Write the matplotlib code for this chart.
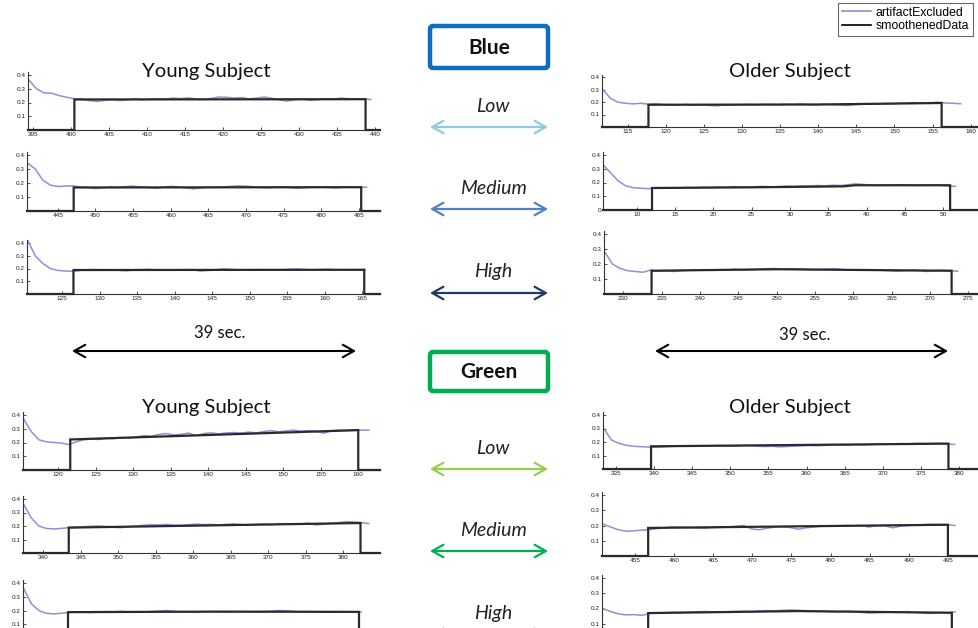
import numpy as np
import matplotlib
matplotlib.use("Agg")
import matplotlib.pyplot as plt
from matplotlib.patches import FancyArrowPatch, FancyBboxPatch
from matplotlib.lines import Line2D

plt.rcParams["font.family"] = ["Lato", "DejaVu Sans"]

# ---------------------------------------------------------------------------
# Pupil traces (artifact excluded), one sample per second from the start time,
# plus the smoothed response during the 39 s stimulus window.
# ---------------------------------------------------------------------------

# Blue / Low
young_blue_low_start = 394.4
young_blue_low = [0.365, 0.30, 0.27, 0.268, 0.25, 0.238, 0.228, 0.224, 0.214, 0.208,
                  0.216, 0.222, 0.214, 0.22, 0.226, 0.22, 0.224, 0.228, 0.226, 0.232,
                  0.228, 0.234, 0.226, 0.222, 0.23, 0.24, 0.238, 0.232, 0.236, 0.226,
                  0.232, 0.24, 0.23, 0.218, 0.21, 0.22, 0.224, 0.216, 0.22, 0.226,
                  0.222, 0.232, 0.228, 0.224, 0.226, 0.222]
young_blue_low_smooth_t = [400.4, 438.7]
young_blue_low_smooth_v = [0.222, 0.224]
young_blue_low_xlim = (394.3, 440.6)
young_blue_low_ticks = [395, 400, 405, 410, 415, 420, 425, 430, 435, 440]

older_blue_low_start = 111.7
older_blue_low = [0.30, 0.23, 0.198, 0.19, 0.185, 0.19, 0.182, 0.186, 0.18, 0.178,
                  0.176, 0.18, 0.174, 0.178, 0.172, 0.17, 0.176, 0.174, 0.178, 0.18,
                  0.176, 0.182, 0.18, 0.178, 0.182, 0.18, 0.184, 0.18, 0.178, 0.182,
                  0.18, 0.176, 0.172, 0.178, 0.182, 0.186, 0.184, 0.188, 0.186, 0.19,
                  0.192, 0.196, 0.19, 0.194, 0.198, 0.192, 0.19, 0.186]
older_blue_low_smooth_t = [117.7, 140.0, 156.2]
older_blue_low_smooth_v = [0.178, 0.18, 0.192]
older_blue_low_xlim = (111.6, 161.5)
older_blue_low_ticks = [115, 120, 125, 130, 135, 140, 145, 150, 155, 160]

# Blue / Medium
young_blue_med_start = 441.0
young_blue_med = [0.34, 0.30, 0.22, 0.185, 0.175, 0.178, 0.18, 0.172, 0.168, 0.16,
                  0.165, 0.172, 0.168, 0.174, 0.178, 0.172, 0.168, 0.162, 0.17, 0.176,
                  0.172, 0.165, 0.158, 0.164, 0.17, 0.168, 0.172, 0.176, 0.18, 0.178,
                  0.172, 0.168, 0.165, 0.17, 0.172, 0.166, 0.162, 0.168, 0.172, 0.17,
                  0.168, 0.165, 0.17, 0.172, 0.168, 0.17]
young_blue_med_smooth_t = [447.1, 485.3]
young_blue_med_smooth_v = [0.168, 0.17]
young_blue_med_xlim = (440.9, 487.8)
young_blue_med_ticks = [445, 450, 455, 460, 465, 470, 475, 480, 485]

older_blue_med_start = 5.6
older_blue_med = [0.33, 0.27, 0.21, 0.175, 0.162, 0.158, 0.155, 0.162, 0.158, 0.162,
                  0.16, 0.164, 0.162, 0.166, 0.164, 0.168, 0.165, 0.17, 0.168, 0.166,
                  0.17, 0.172, 0.168, 0.17, 0.174, 0.172, 0.175, 0.174, 0.178, 0.176,
                  0.18, 0.178, 0.184, 0.19, 0.186, 0.18, 0.178, 0.182, 0.18, 0.184,
                  0.18, 0.178, 0.18, 0.182, 0.18, 0.175, 0.172]
older_blue_med_smooth_t = [12.0, 25.0, 37.0, 38.5, 50.9]
older_blue_med_smooth_v = [0.16, 0.165, 0.172, 0.18, 0.18]
older_blue_med_xlim = (5.6, 54.8)
older_blue_med_ticks = [10, 15, 20, 25, 30, 35, 40, 45, 50]

# Blue / High
young_blue_high_start = 120.4
young_blue_high = [0.42, 0.30, 0.24, 0.20, 0.185, 0.18, 0.178, 0.185, 0.19, 0.192,
                   0.188, 0.19, 0.186, 0.182, 0.186, 0.19, 0.194, 0.19, 0.188, 0.19,
                   0.186, 0.192, 0.19, 0.18, 0.184, 0.19, 0.196, 0.194, 0.19, 0.186,
                   0.188, 0.192, 0.19, 0.188, 0.19, 0.194, 0.196, 0.192, 0.19, 0.192,
                   0.194, 0.19, 0.19, 0.188, 0.19, 0.192]
young_blue_high_smooth_t = [126.5, 165.3]
young_blue_high_smooth_v = [0.188, 0.19]
young_blue_high_xlim = (120.3, 167.4)
young_blue_high_ticks = [125, 130, 135, 140, 145, 150, 155, 160, 165]

older_blue_high_start = 227.6
older_blue_high = [0.28, 0.20, 0.17, 0.155, 0.15, 0.145, 0.16, 0.152, 0.155, 0.15,
                   0.156, 0.158, 0.16, 0.162, 0.158, 0.16, 0.162, 0.165, 0.16, 0.163,
                   0.165, 0.168, 0.17, 0.165, 0.166, 0.168, 0.165, 0.162, 0.164, 0.166,
                   0.168, 0.163, 0.16, 0.158, 0.162, 0.16, 0.158, 0.155, 0.152, 0.155,
                   0.158, 0.156, 0.15, 0.155, 0.158, 0.155, 0.152]
older_blue_high_smooth_t = [233.7, 250.0, 272.8]
older_blue_high_smooth_v = [0.155, 0.165, 0.155]
older_blue_high_xlim = (227.5, 276.5)
older_blue_high_ticks = [230, 235, 240, 245, 250, 255, 260, 265, 270, 275]

# Green / Low
young_green_low_start = 115.4
young_green_low = [0.37, 0.28, 0.22, 0.205, 0.20, 0.196, 0.185, 0.205, 0.22, 0.225,
                   0.222, 0.23, 0.228, 0.236, 0.232, 0.24, 0.25, 0.245, 0.258, 0.265,
                   0.255, 0.26, 0.268, 0.25, 0.265, 0.27, 0.262, 0.27, 0.272, 0.268,
                   0.276, 0.27, 0.28, 0.286, 0.278, 0.284, 0.29, 0.282, 0.286, 0.28,
                   0.268, 0.285, 0.29, 0.288, 0.292, 0.29, 0.29]
young_green_low_smooth_t = [121.6, 160.0]
young_green_low_smooth_v = [0.222, 0.29]
young_green_low_xlim = (115.3, 162.9)
young_green_low_ticks = [120, 125, 130, 135, 140, 145, 150, 155, 160]

older_green_low_start = 333.4
older_green_low = [0.30, 0.215, 0.19, 0.175, 0.168, 0.165, 0.162, 0.16, 0.165, 0.168,
                   0.17, 0.172, 0.168, 0.17, 0.172, 0.174, 0.17, 0.168, 0.172, 0.175,
                   0.17, 0.166, 0.168, 0.164, 0.166, 0.17, 0.172, 0.174, 0.172, 0.175,
                   0.18, 0.178, 0.176, 0.18, 0.178, 0.182, 0.184, 0.182, 0.186, 0.188,
                   0.185, 0.19, 0.188, 0.19, 0.19, 0.185, 0.182]
older_green_low_smooth_t = [339.6, 378.6]
older_green_low_smooth_v = [0.168, 0.188]
older_green_low_xlim = (333.3, 383.0)
older_green_low_ticks = [335, 340, 345, 350, 355, 360, 365, 370, 375, 380]

# Green / Medium
young_green_med_start = 337.4
young_green_med = [0.36, 0.26, 0.20, 0.182, 0.178, 0.182, 0.188, 0.19, 0.195, 0.198,
                   0.20, 0.196, 0.19, 0.188, 0.195, 0.20, 0.205, 0.21, 0.208, 0.212,
                   0.206, 0.205, 0.21, 0.214, 0.21, 0.212, 0.208, 0.212, 0.216, 0.21,
                   0.205, 0.212, 0.214, 0.21, 0.215, 0.218, 0.212, 0.216, 0.22, 0.208,
                   0.214, 0.22, 0.225, 0.232, 0.23, 0.225, 0.218]
young_green_med_smooth_t = [343.4, 382.3]
young_green_med_smooth_v = [0.188, 0.222]
young_green_med_xlim = (337.3, 384.9)
young_green_med_ticks = [340, 345, 350, 355, 360, 365, 370, 375, 380]

older_green_med_start = 450.9
older_green_med = [0.21, 0.19, 0.172, 0.162, 0.165, 0.17, 0.172, 0.18, 0.186, 0.19,
                   0.188, 0.186, 0.184, 0.182, 0.186, 0.188, 0.19, 0.195, 0.20, 0.178,
                   0.172, 0.182, 0.19, 0.192, 0.186, 0.176, 0.185, 0.19, 0.196, 0.198,
                   0.195, 0.20, 0.198, 0.20, 0.19, 0.198, 0.20, 0.185, 0.195, 0.20,
                   0.202, 0.205, 0.208, 0.206, 0.205, 0.20]
older_green_med_smooth_t = [456.7, 495.0]
older_green_med_smooth_v = [0.184, 0.205]
older_green_med_xlim = (450.8, 499.1)
older_green_med_ticks = [455, 460, 465, 470, 475, 480, 485, 490, 495]

# Green / High (time axis runs below the slide edge, so no tick labels)
young_green_high_start = 236.1
young_green_high = [0.36, 0.25, 0.20, 0.18, 0.175, 0.18, 0.185, 0.19, 0.188, 0.185,
                    0.19, 0.192, 0.19, 0.194, 0.19, 0.188, 0.19, 0.192, 0.196, 0.20,
                    0.195, 0.19, 0.188, 0.186, 0.19, 0.192, 0.19, 0.188, 0.19, 0.192,
                    0.19, 0.188, 0.192, 0.195, 0.20, 0.198, 0.194, 0.19, 0.192, 0.19,
                    0.188, 0.19, 0.192, 0.19, 0.19, 0.19]
young_green_high_smooth_t = [242.0, 262.0, 280.8]
young_green_high_smooth_v = [0.188, 0.192, 0.19]
young_green_high_xlim = (236.0, 283.6)
young_green_high_ticks = []

older_green_high_start = 565.1
older_green_high = [0.20, 0.18, 0.165, 0.158, 0.16, 0.155, 0.168, 0.17, 0.172, 0.175,
                    0.174, 0.176, 0.178, 0.18, 0.178, 0.176, 0.178, 0.18, 0.182, 0.18,
                    0.184, 0.186, 0.185, 0.188, 0.19, 0.188, 0.186, 0.185, 0.182, 0.18,
                    0.178, 0.182, 0.18, 0.175, 0.17, 0.172, 0.175, 0.178, 0.176, 0.18,
                    0.175, 0.17, 0.168, 0.175, 0.172, 0.178]
older_green_high_smooth_t = [570.9, 590.0, 609.7]
older_green_high_smooth_v = [0.17, 0.183, 0.172]
older_green_high_xlim = (565.0, 613.3)
older_green_high_ticks = []

y_ticks = [0.1, 0.2, 0.3, 0.4]
y_ticks_with_zero = [0.0, 0.1, 0.2, 0.3, 0.4]

intensity_labels = ["Low", "Medium", "High"]
subject_labels = ["Young Subject", "Older Subject"]
duration_label = "39 sec."
legend_labels = ["artifactExcluded", "smoothenedData"]

# ---------------------------------------------------------------------------
W, H = 979, 628
fig = plt.figure(figsize=(W / 100, H / 100), dpi=100)
fig.patch.set_facecolor("white")

# overlay working in pixel units (y downwards) for the slide annotations
bg = fig.add_axes([0, 0, 1, 1])
bg.set_xlim(0, W)
bg.set_ylim(H, 0)
bg.axis("off")

TRACE = "#9090d4"
SMOOTH = "#2a2a2a"
YTOP = 0.42
TICKFONT = {"family": ["Liberation Sans", "DejaVu Sans"]}


def panel_axes(left, right, bottom, top04):
    top = bottom - (bottom - top04) * YTOP / 0.4
    return fig.add_axes([left / W, 1 - bottom / H, (right - left) / W, (bottom - top) / H])


def draw_panel(ax, trace, start, sm_t, sm_v, xlim, xticks, yt):
    t = start + np.arange(len(trace))
    ax.plot(t, trace, color=TRACE, lw=1.1, zorder=2)
    st = [xlim[0], sm_t[0]] + list(sm_t) + [sm_t[-1], xlim[1]]
    sv = [0.0, 0.0] + list(sm_v) + [0.0, 0.0]
    ax.plot(st, sv, color=SMOOTH, lw=1.6, zorder=3, clip_on=False,
            solid_joinstyle="miter")
    ax.set_xlim(xlim)
    ax.set_ylim(0, YTOP)
    ax.set_xticks(xticks)
    ax.set_xticklabels([str(v) for v in xticks], fontdict=TICKFONT)
    ax.set_yticks(yt)
    ax.set_yticklabels(["0" if v == 0 else f"{v:.1f}" for v in yt], fontdict=TICKFONT)
    for s in ("top", "right"):
        ax.spines[s].set_visible(False)
    for s in ("left", "bottom"):
        ax.spines[s].set_linewidth(0.8)
        ax.spines[s].set_color("#333333")
    ax.tick_params(direction="in", length=2.5, width=0.6, labelsize=4.6, pad=1.5,
                   colors="#333333", labelcolor="#222222")
    ax.patch.set_alpha(0)


panels = [
    # (trace, start, smooth_t, smooth_v, xlim, ticks, yticks, [left, right, bottom, top04])
    (young_blue_low, young_blue_low_start, young_blue_low_smooth_t, young_blue_low_smooth_v,
     young_blue_low_xlim, young_blue_low_ticks, y_ticks, [28, 380, 130, 75]),
    (older_blue_low, older_blue_low_start, older_blue_low_smooth_t, older_blue_low_smooth_v,
     older_blue_low_xlim, older_blue_low_ticks, y_ticks, [602, 982, 127, 77]),
    (young_blue_med, young_blue_med_start, young_blue_med_smooth_t, young_blue_med_smooth_v,
     young_blue_med_xlim, young_blue_med_ticks, y_ticks, [27, 380, 211, 155]),
    (older_blue_med, older_blue_med_start, older_blue_med_smooth_t, older_blue_med_smooth_v,
     older_blue_med_xlim, older_blue_med_ticks, y_ticks_with_zero, [603, 980, 210, 155]),
    (young_blue_high, young_blue_high_start, young_blue_high_smooth_t, young_blue_high_smooth_v,
     young_blue_high_xlim, young_blue_high_ticks, y_ticks, [27, 380, 294, 243]),
    (older_blue_high, older_blue_high_start, older_blue_high_smooth_t, older_blue_high_smooth_v,
     older_blue_high_xlim, older_blue_high_ticks, y_ticks, [604, 980, 294, 234]),
    (young_green_low, young_green_low_start, young_green_low_smooth_t, young_green_low_smooth_v,
     young_green_low_xlim, young_green_low_ticks, y_ticks, [23, 380, 470, 415]),
    (older_green_low, older_green_low_start, older_green_low_smooth_t, older_green_low_smooth_v,
     older_green_low_xlim, older_green_low_ticks, y_ticks, [603, 982, 469, 415]),
    (young_green_med, young_green_med_start, young_green_med_smooth_t, young_green_med_smooth_v,
     young_green_med_xlim, young_green_med_ticks, y_ticks, [23, 380, 553, 499]),
    (older_green_med, older_green_med_start, older_green_med_smooth_t, older_green_med_smooth_v,
     older_green_med_xlim, older_green_med_ticks, y_ticks, [602, 980, 556, 495]),
    (young_green_high, young_green_high_start, young_green_high_smooth_t, young_green_high_smooth_v,
     young_green_high_xlim, young_green_high_ticks, y_ticks, [23, 380, 638, 583]),
    (older_green_high, older_green_high_start, older_green_high_smooth_t, older_green_high_smooth_v,
     older_green_high_xlim, older_green_high_ticks, y_ticks, [602, 980, 639, 578]),
]

for trace, start, sm_t, sm_v, xlim, xt, yt, box in panels:
    ax = panel_axes(*box)
    draw_panel(ax, trace, start, sm_t, sm_v, xlim, xt, yt)

# subject headings
for y in (71, 408):
    bg.text(206, y, subject_labels[0], fontsize=14.6, ha="center", va="center", color="#111111")
    bg.text(790, y, subject_labels[1], fontsize=14.6, ha="center", va="center", color="#111111")

# colour boxes
for (top, bottom, label, col) in [(24, 70, "Blue", "#0a6fc2"), (350, 393, "Green", "#00ad4f")]:
    bg.add_patch(FancyBboxPatch((430, top + 2), 118, bottom - top - 4,
                                boxstyle="round,pad=0,rounding_size=3",
                                lw=3.2, ec=col, fc="white", zorder=1))
    bg.text(489, (top + bottom) / 2 + 1, label, fontsize=15, fontweight="bold",
            ha="center", va="center", color="#111111", zorder=2)

# intensity labels with double arrows
blue_arrow_cols = ["#8ecbe0", "#4f83c2", "#1f3864"]
green_arrow_cols = ["#92d050", "#00b050", "#00803a"]
for ys, cols in [((106, 188, 272), blue_arrow_cols), ((448, 530, 614), green_arrow_cols)]:
    for lab, y, c in zip(intensity_labels, ys, cols):
        bg.text(493, y, lab, fontsize=14, style="italic", ha="center", va="center",
                color="#222222")
        bg.add_patch(FancyArrowPatch((430, y + 21), (548, y + 21),
                                     arrowstyle="<->,head_length=0.8,head_width=0.45",
                                     mutation_scale=10, lw=1.6, color=c,
                                     shrinkA=0, shrinkB=0))

# stimulus duration
for x0, x1, tx, ty in [(72, 356, 220, 333), (655, 948, 805, 335)]:
    bg.text(tx, ty, duration_label, fontsize=12, ha="center", va="center", color="#111111")
    bg.add_patch(FancyArrowPatch((x0, 351), (x1, 351),
                                 arrowstyle="<->,head_length=0.8,head_width=0.45",
                                 mutation_scale=10, lw=1.5, color="#000000",
                                 shrinkA=0, shrinkB=0))

# legend
handles = [Line2D([], [], color=TRACE, lw=1.2), Line2D([], [], color="#000000", lw=1.2)]
leg = fig.legend(handles, legend_labels, loc="upper left",
                 bbox_to_anchor=(838 / W, 1 - 3 / H), frameon=True, fancybox=False,
                 edgecolor="#444444", handlelength=2.4, borderpad=0.3,
                 labelspacing=0.1, handletextpad=0.4, borderaxespad=0,
                 prop={"family": ["Liberation Sans", "DejaVu Sans"], "size": 8.8})
leg.get_frame().set_linewidth(0.8)

fig.savefig("out.png", dpi=100, facecolor="white")
